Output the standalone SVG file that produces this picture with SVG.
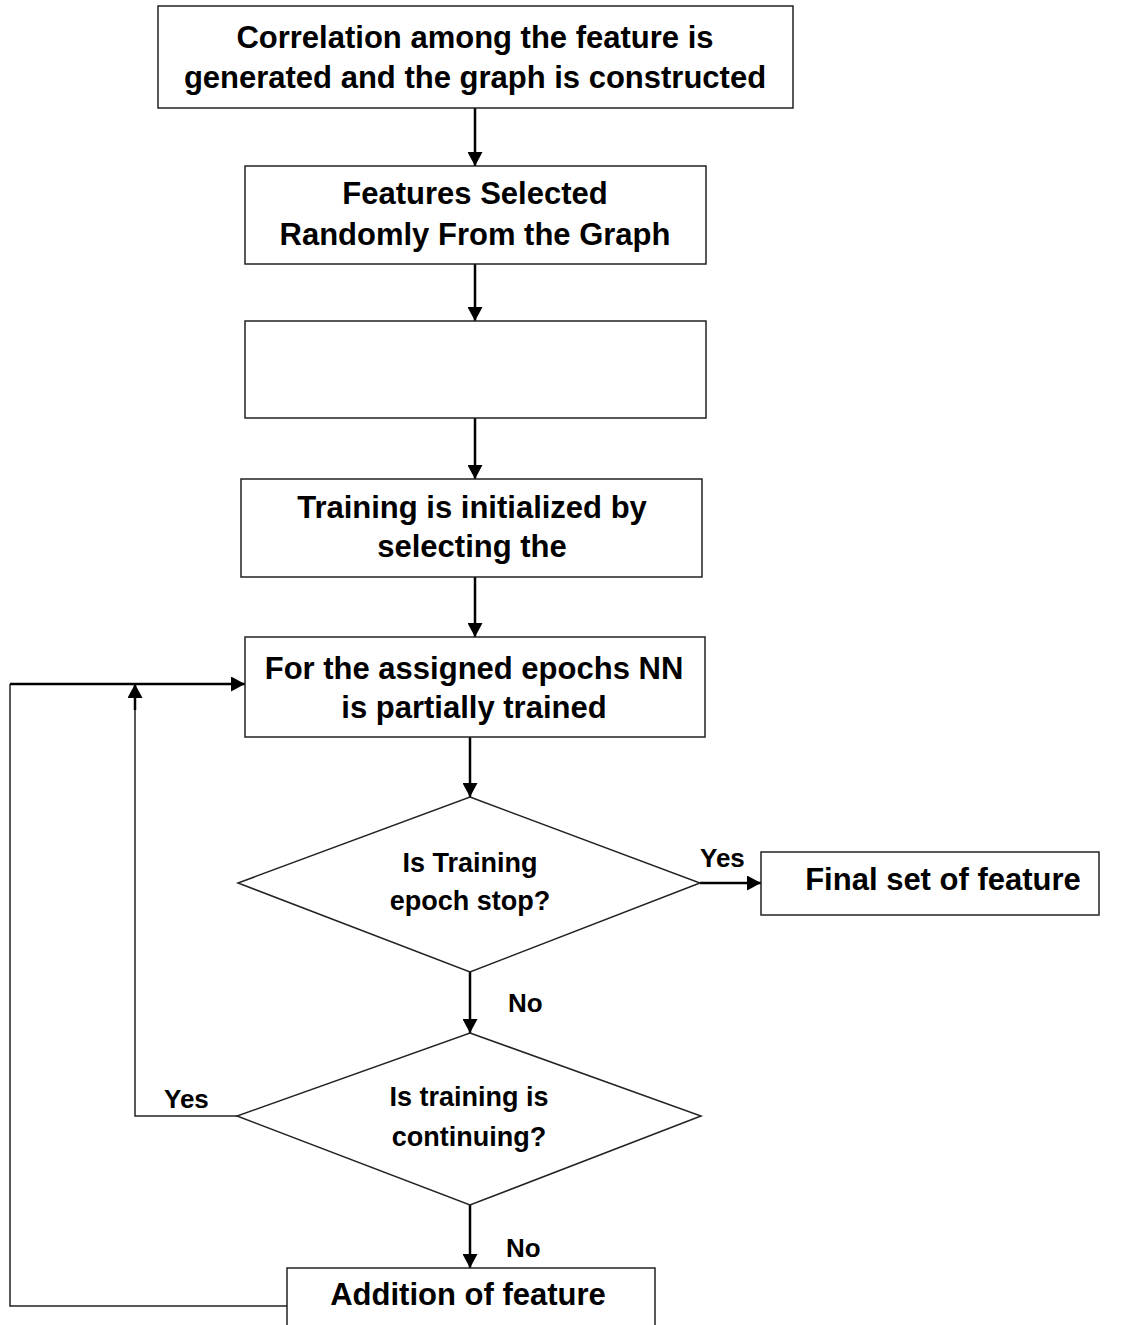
<svg xmlns="http://www.w3.org/2000/svg" width="1130" height="1325" viewBox="0 0 1130 1325">
<style>
.box{fill:#fff;stroke:#222;stroke-width:1.5}
.t{font-family:"Liberation Sans",Arial,sans-serif;font-weight:bold;font-size:31px;fill:#000;text-anchor:middle}
.d{font-size:27px}
.lbl{font-family:"Liberation Sans",Arial,sans-serif;font-weight:bold;font-size:26px;fill:#000}
.c{fill:none;stroke:#000;stroke-width:2.5}
.thin{fill:none;stroke:#222;stroke-width:1.5}
</style>
<defs>
<marker id="ah" markerWidth="14" markerHeight="15" refX="14" refY="7.5" orient="auto" markerUnits="userSpaceOnUse" viewBox="0 0 14 15">
<path d="M0,0 L14,7.5 L0,15 z" fill="#000"/>
</marker>
</defs>
<rect width="1130" height="1325" fill="#fff"/>
<g id="connectors">
<line class="c" x1="475" y1="108" x2="475" y2="166" marker-end="url(#ah)"/>
<line class="c" x1="475" y1="264" x2="475" y2="321" marker-end="url(#ah)"/>
<line class="c" x1="475" y1="418" x2="475" y2="479" marker-end="url(#ah)"/>
<line class="c" x1="475" y1="577" x2="475" y2="637" marker-end="url(#ah)"/>
<line class="c" x1="470" y1="737" x2="470" y2="797" marker-end="url(#ah)"/>
<line class="c" x1="700" y1="883" x2="761" y2="883" marker-end="url(#ah)"/>
<line class="c" x1="470" y1="972" x2="470" y2="1033" marker-end="url(#ah)"/>
<line class="c" x1="470" y1="1205" x2="470" y2="1268" marker-end="url(#ah)"/>
<polyline class="thin" points="237,1116 135,1116 135,710"/>
<line class="c" x1="135" y1="710" x2="135" y2="684" marker-end="url(#ah)"/>
<polyline class="thin" points="287,1306 10,1306 10,684"/>
<line class="c" x1="10" y1="684" x2="245" y2="684" marker-end="url(#ah)"/>
<text class="lbl" x="700" y="867">Yes</text>
<text class="lbl" x="508" y="1012">No</text>
<text class="lbl" x="164" y="1108">Yes</text>
<text class="lbl" x="506" y="1257">No</text>
</g>
<g id="n1">
<rect class="box" x="158" y="6" width="635" height="102"/>
<text class="t" x="475" y="48">Correlation among the feature is</text>
<text class="t" x="475" y="88">generated and the graph is constructed</text>
</g>
<g id="n2">
<rect class="box" x="245" y="166" width="461" height="98"/>
<text class="t" x="475" y="204">Features Selected</text>
<text class="t" x="475" y="245">Randomly From the Graph</text>
</g>
<g id="n3">
<rect class="box" x="245" y="321" width="461" height="97"/>
</g>
<g id="n4">
<rect class="box" x="241" y="479" width="461" height="98"/>
<text class="t" x="472" y="518">Training is initialized by</text>
<text class="t" x="472" y="557">selecting the</text>
</g>
<g id="n5">
<rect class="box" x="245" y="637" width="460" height="100"/>
<text class="t" x="474" y="679">For the assigned epochs NN</text>
<text class="t" x="474" y="718">is partially trained</text>
</g>
<g id="d1">
<polygon class="box" points="470,797 700,883 470,972 238,883"/>
<text class="t d" x="470" y="872">Is Training</text>
<text class="t d" x="470" y="910">epoch stop?</text>
</g>
<g id="final">
<rect class="box" x="761" y="852" width="338" height="63"/>
<text class="t" x="943" y="890">Final set of feature</text>
</g>
<g id="d2">
<polygon class="box" points="470,1033 701,1116 470,1205 237,1116"/>
<text class="t d" x="469" y="1106">Is training is</text>
<text class="t d" x="469" y="1146">continuing?</text>
</g>
<g id="add">
<rect class="box" x="287" y="1268" width="368" height="70"/>
<text class="t" x="468" y="1305">Addition of feature</text>
</g>
</svg>
